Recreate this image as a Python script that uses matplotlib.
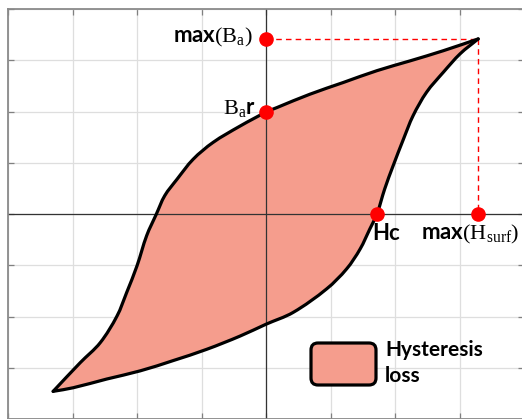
import matplotlib
matplotlib.use("Agg")
import matplotlib.pyplot as plt
from matplotlib.path import Path
from matplotlib.patches import PathPatch, FancyBboxPatch
from matplotlib.transforms import IdentityTransform
import numpy as np

# ---- data (grid units) ----
# descending branch: from positive tip to negative tip
upper_x = [3.29, 2.75, 2.23, 1.72, 1.20, 0.68, 0.17, 0.0, -0.40, -0.82, -1.13, -1.38, -1.57,
           -1.70, -1.85, -2.00, -2.16, -2.31, -2.57, -2.88, -3.30]
upper_y = [3.42, 3.19, 2.99, 2.80, 2.57, 2.34, 2.08, 1.99, 1.72, 1.40, 1.07, 0.68, 0.36,
           0.0, -0.42, -1.01, -1.53, -1.99, -2.51, -2.90, -3.46]
# ascending branch: from negative tip to positive tip
lower_x = [-3.30, -2.99, -2.47, -1.95, -1.44, -0.92, -0.40, 0.0, 0.42, 0.94, 1.25, 1.46,
           1.61, 1.72, 1.84, 1.97, 2.13, 2.28, 2.49, 2.75, 3.01, 3.29]
lower_y = [-3.46, -3.39, -3.22, -3.06, -2.86, -2.64, -2.38, -2.15, -1.92, -1.46, -1.07, -0.68,
           -0.29, 0.0, 0.49, 0.94, 1.46, 1.92, 2.38, 2.77, 3.13, 3.42]

B_max = 3.42
B_r = 1.99
H_c = 1.72
H_max = 3.29

grid_ticks = [-4, -3, -2, -1, 0, 1, 2, 3, 4]

FILL = "#F59D8D"

plt.rcParams['mathtext.fontset'] = 'custom'
plt.rcParams['mathtext.rm'] = 'Liberation Serif'
plt.rcParams['mathtext.it'] = 'Liberation Serif:italic'
plt.rcParams['mathtext.bf'] = 'Liberation Serif:bold'

fig = plt.figure(figsize=(5.22, 4.19), dpi=100)
ax = fig.add_axes([8/522, 0.0, 516/522, 409.8/419])
ax.set_xlim(-4, 4)
ax.set_ylim(-4, 4)

# pixel aspect so the smoothing works in screen-like space
SX, SY = 64.5, 51.2


def smooth_path(xs, ys):
    pts = np.column_stack([np.asarray(xs) * SX, np.asarray(ys) * SY])
    n = len(pts)
    tang = []
    for i in range(n):
        a = pts[i - 1] if i > 0 else pts[i]
        b = pts[i + 1] if i < n - 1 else pts[i]
        d = b - a
        tang.append(d / (np.linalg.norm(d) + 1e-12))
    verts = [pts[0]]
    codes = [Path.MOVETO]
    for i in range(n - 1):
        p1, p2 = pts[i], pts[i + 1]
        L = np.linalg.norm(p2 - p1) / 3.0
        verts += [p1 + tang[i] * L, p2 - tang[i + 1] * L, p2]
        codes += [Path.CURVE4] * 3
    verts = [np.array([v[0] / SX, v[1] / SY]) for v in verts]
    return verts, codes


v1, c1 = smooth_path(upper_x, upper_y)
v2, c2 = smooth_path(lower_x, lower_y)
verts = v1 + v2[1:] + [v1[0]]
codes = c1 + c2[1:] + [Path.CLOSEPOLY]
loop = Path(verts, codes)
ax.add_patch(PathPatch(loop, facecolor=FILL, edgecolor="none", zorder=1))

# grid
ax.set_xticks(grid_ticks)
ax.set_yticks(grid_ticks)
ax.set_xticklabels([])
ax.set_yticklabels([])
ax.grid(True, color="#dedede", linewidth=0.9, zorder=0)
ax.set_axisbelow(True)
ax.tick_params(direction="in", length=4, width=0.9, color="#808080",
               top=True, right=True)
for s in ax.spines.values():
    s.set_color("#8a8a8a")
    s.set_linewidth(1.3)

# axes through origin
ax.axhline(0, color="#333333", linewidth=0.9, zorder=2)
ax.axvline(0, color="#333333", linewidth=0.9, zorder=2)

# outline
ax.add_patch(PathPatch(Path(v1, c1), facecolor="none", edgecolor="black",
                       linewidth=2.3, capstyle="round", joinstyle="round", zorder=3))
ax.add_patch(PathPatch(Path(v2, c2), facecolor="none", edgecolor="black",
                       linewidth=2.3, capstyle="round", joinstyle="round", zorder=3))

# dashed guides
ax.plot([0, H_max], [B_max, B_max], color="red", linestyle=(0, (4, 3)), linewidth=1.0, zorder=2)
ax.plot([H_max, H_max], [B_max, 0], color="red", linestyle=(0, (4, 3)), linewidth=1.0, zorder=2)

# red points
ax.plot([0, 0, H_c, H_max], [B_max, B_r, 0, 0], "o", color="red", markersize=9.5,
        zorder=4, clip_on=False)

sans = "Lato"
LBL = 16
ax.text(-0.2, B_max + 0.02, r"max$\mathrm{(B_a)}$", ha="right", va="center",
        fontsize=LBL, fontweight="bold", family=sans, zorder=5)
ax.text(-0.16, B_r + 0.08, r"$\mathrm{B_a}$r", ha="right", va="center",
        fontsize=LBL, fontweight="bold", family=sans, zorder=5)
ax.text(H_c - 0.07, -0.18, "Hc", ha="left", va="top",
        fontsize=LBL, fontweight="bold", family=sans, zorder=5)
ax.text(H_max - 0.12, -0.18, r"max$\mathrm{(H_{surf})}$", ha="center", va="top",
        fontsize=LBL, fontweight="bold", family=sans, zorder=5)

# legend
leg = FancyBboxPatch((311, 419 - 385), 65, 42,
                     boxstyle="round,pad=0,rounding_size=7",
                     facecolor=FILL, edgecolor="black", linewidth=2.3, zorder=5,
                     transform=IdentityTransform())
fig.patches.append(leg)
fig.text(385/522, 1 - 350/419, "Hysteresis", ha="left", va="center",
         fontsize=15, fontweight="bold", family=sans)
fig.text(385/522, 1 - 376/419, "loss", ha="left", va="center",
         fontsize=15, fontweight="bold", family=sans)

fig.savefig("out.png", dpi=100)
